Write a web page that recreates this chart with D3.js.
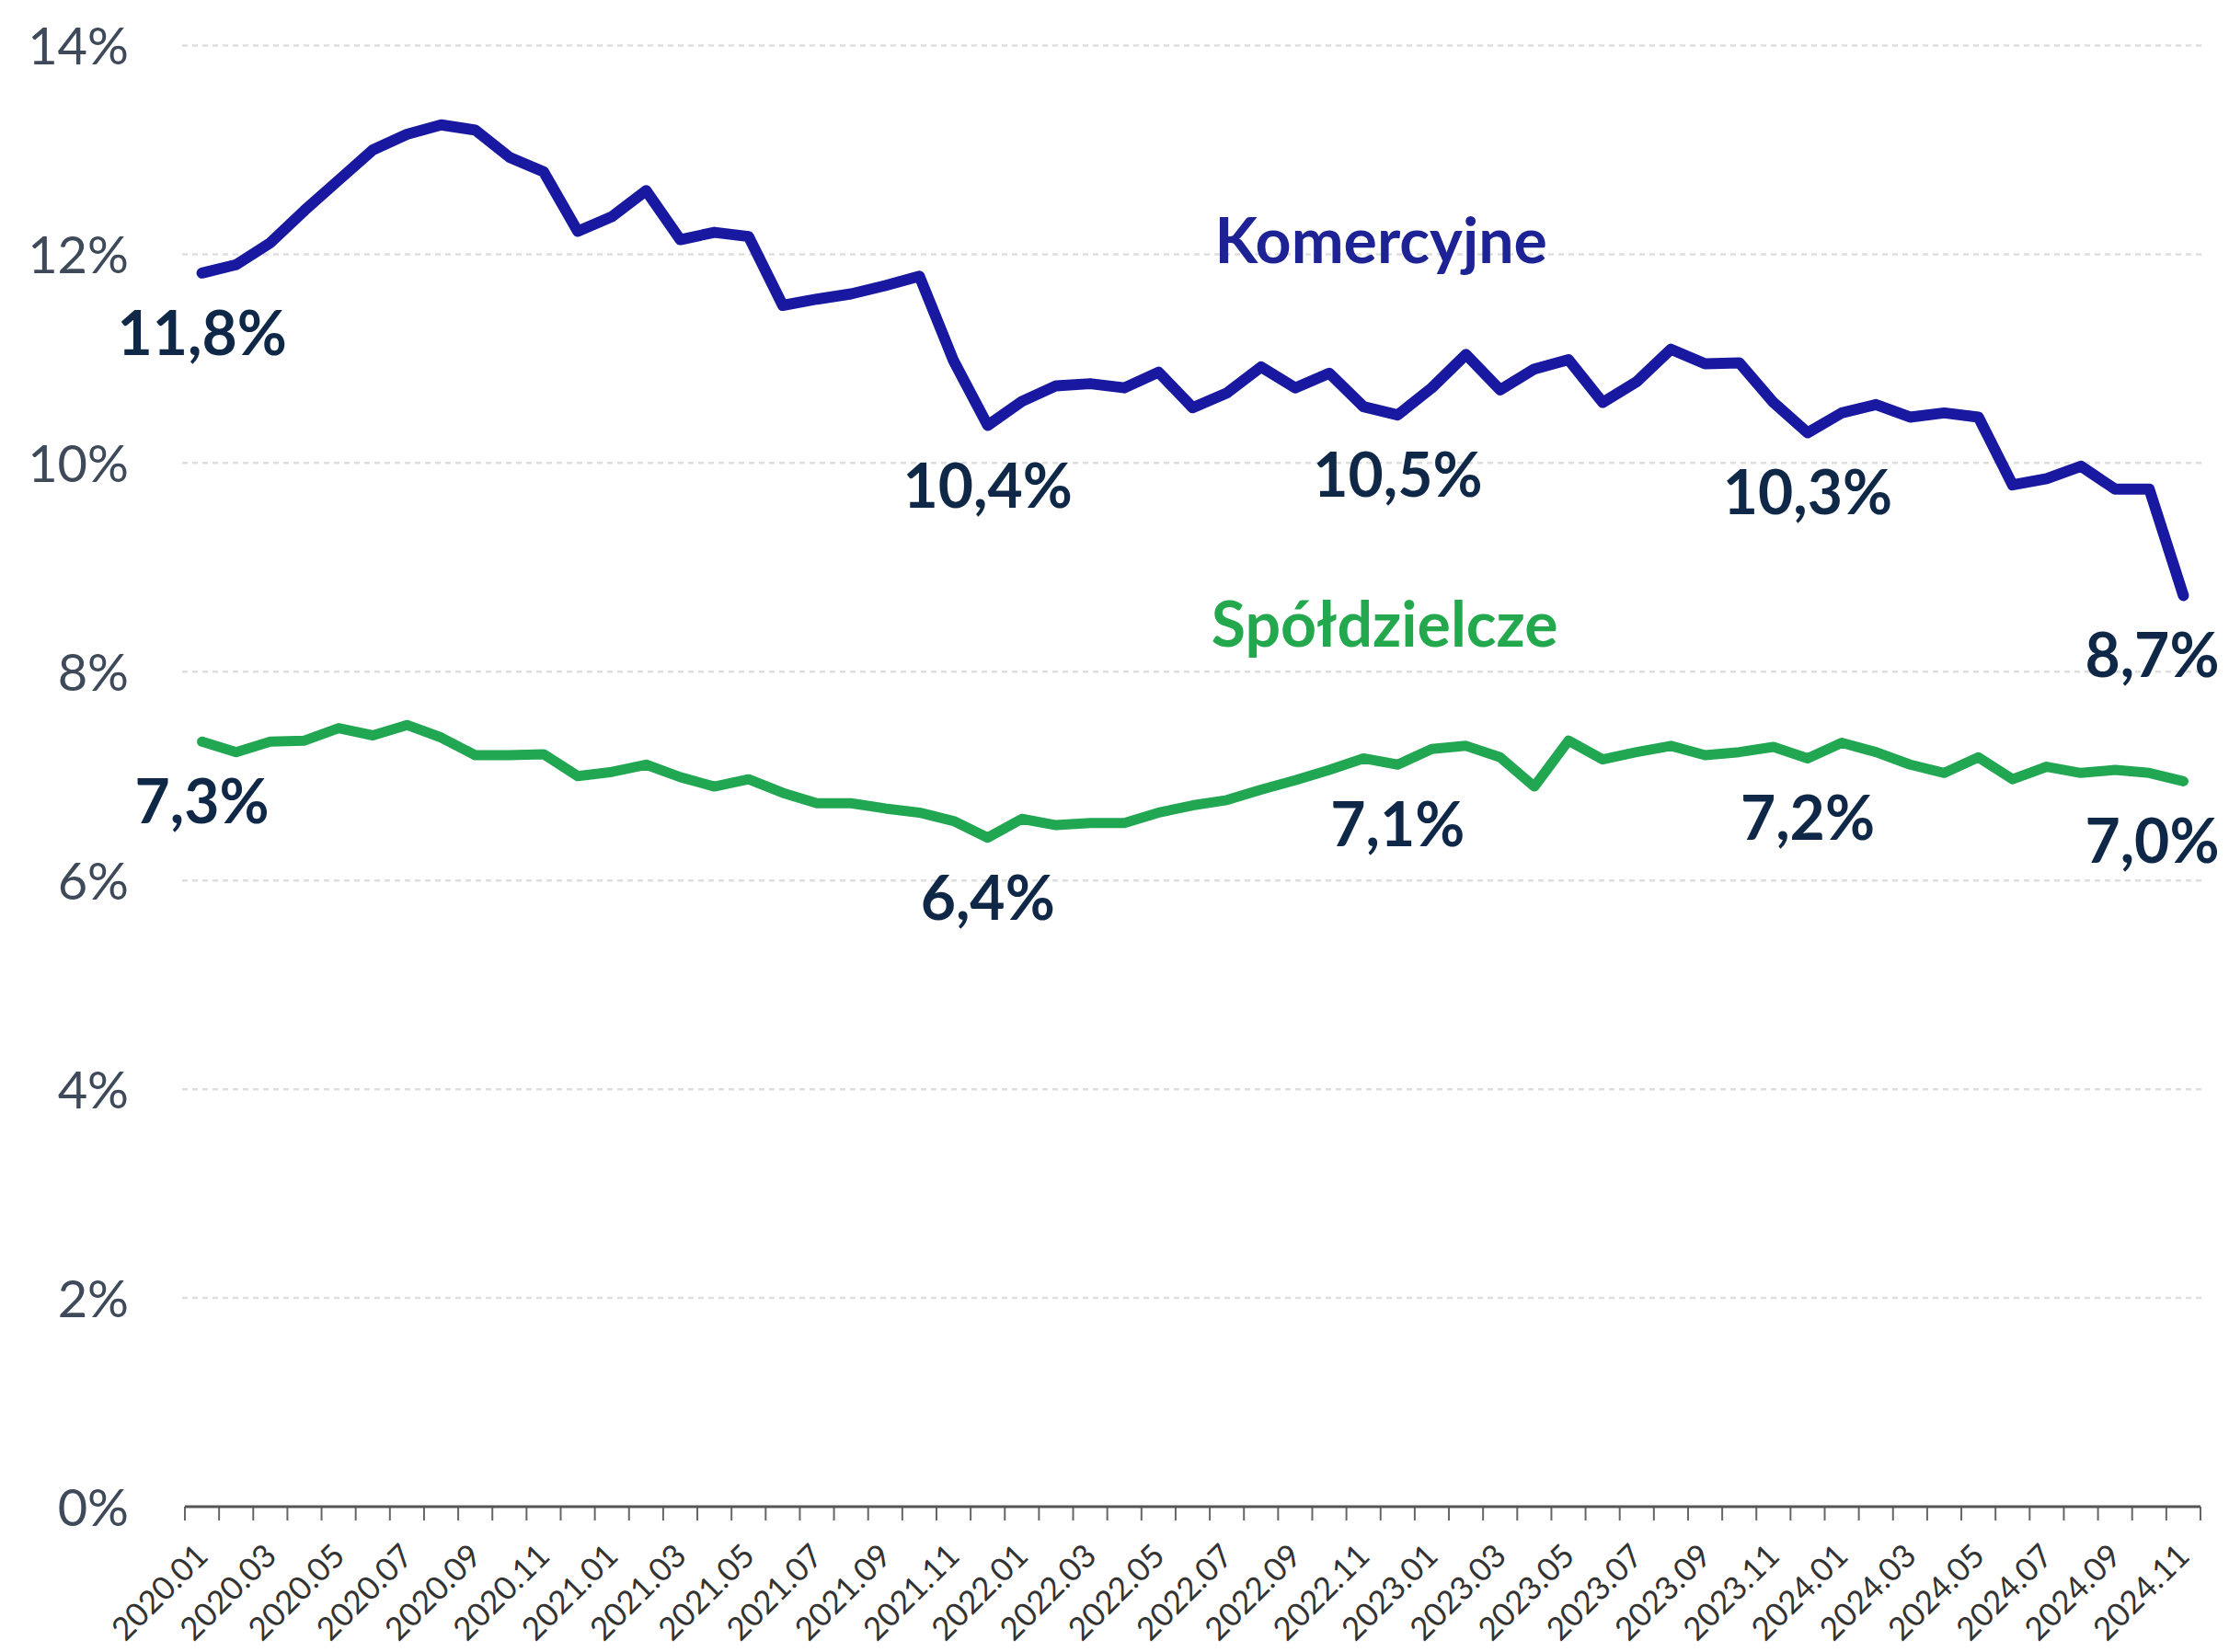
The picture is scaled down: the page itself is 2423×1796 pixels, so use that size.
<!DOCTYPE html>
<html><head><meta charset="utf-8">
<script src="https://cdn.jsdelivr.net/npm/d3@7"></script>
<style>html,body{margin:0;padding:0;background:#fff;} svg{display:block;}</style>
</head><body>
<svg id="chart" width="2423" height="1796"></svg>
<script>
// ---- DATA ----
const categories = [
 "2020.01","2020.02","2020.03","2020.04","2020.05","2020.06","2020.07","2020.08","2020.09","2020.10","2020.11","2020.12",
 "2021.01","2021.02","2021.03","2021.04","2021.05","2021.06","2021.07","2021.08","2021.09","2021.10","2021.11","2021.12",
 "2022.01","2022.02","2022.03","2022.04","2022.05","2022.06","2022.07","2022.08","2022.09","2022.10","2022.11","2022.12",
 "2023.01","2023.02","2023.03","2023.04","2023.05","2023.06","2023.07","2023.08","2023.09","2023.10","2023.11","2023.12",
 "2024.01","2024.02","2024.03","2024.04","2024.05","2024.06","2024.07","2024.08","2024.09","2024.10","2024.11"
];
const komercyjne = [
 11.82,11.90,12.11,12.42,12.71,13.00,13.15,13.24,13.19,12.93,12.79,12.22,
 12.36,12.61,12.14,12.21,12.17,11.51,11.57,11.62,11.70,11.79,10.98,10.36,
 10.59,10.74,10.76,10.72,10.87,10.53,10.67,10.92,10.72,10.86,10.54,10.46,
 10.72,11.04,10.70,10.90,10.99,10.58,10.78,11.09,10.95,10.96,10.58,10.29,
 10.48,10.56,10.44,10.48,10.44,9.79,9.85,9.97,9.75,9.75,8.73
];
const spoldzielcze = [
 7.33,7.23,7.33,7.34,7.46,7.39,7.49,7.37,7.20,7.20,7.21,7.00,
 7.04,7.11,6.99,6.90,6.97,6.84,6.74,6.74,6.69,6.65,6.57,6.41,
 6.59,6.53,6.55,6.55,6.65,6.72,6.77,6.87,6.96,7.06,7.17,7.11,
 7.26,7.29,7.18,6.90,7.34,7.16,7.23,7.29,7.20,7.23,7.28,7.17,
 7.32,7.23,7.11,7.03,7.18,6.97,7.09,7.03,7.06,7.03,6.95
];
const yTicks = [0,2,4,6,8,10,12,14];
const xTickLabels = categories.filter((d,i) => i % 2 === 0);
const seriesNames = ["Komercyjne","Spółdzielcze"];
const komLabelIdx = [0,23,35,47,58];
const komLabelText = ["11,8%","10,4%","10,5%","10,3%","8,7%"];
const spoLabelIdx = [0,23,35,47,58];
const spoLabelText = ["7,3%","6,4%","7,1%","7,2%","7,0%"];

// ---- CHART ----
const svg = d3.select("#chart");
const FONT = "Lato, 'Open Sans', sans-serif";
const NAVY = "#1818a0", GREEN = "#21a651", LABEL = "#0f2847";

const x = d3.scaleBand().domain(categories).range([201, 2392]).padding(0);
const cx = c => x(c) + x.bandwidth() / 2;
const y = d3.scaleLinear().domain([0, 14]).range([1638, 49.5]);

// gridlines
svg.append("g").selectAll("line").data(yTicks.filter(v => v > 0)).join("line")
  .attr("x1", x.range()[0] - 3).attr("x2", x.range()[1] + 4)
  .attr("y1", d => y(d)).attr("y2", d => y(d))
  .attr("stroke", "#dedede").attr("stroke-width", 2.5).attr("stroke-dasharray", "6,5");

// y axis labels
const gy = svg.append("g").attr("transform", "translate(140,0)")
  .call(d3.axisLeft(y).tickValues(yTicks).tickFormat(d => d + "%").tickSize(0).tickPadding(0));
gy.select(".domain").remove();
gy.selectAll("text").attr("font-family", FONT).attr("font-size", 56)
  .attr("fill", "#3e4959").attr("dy", "0.36em");

// x axis: line + boundary ticks
const gx = svg.append("g");
const bounds = categories.map(c => x(c)).concat([x.range()[1]]);
gx.selectAll("line.tk").data(bounds).join("line").attr("class", "tk")
  .attr("x1", d => d).attr("x2", d => d).attr("y1", y(0)).attr("y2", y(0) + 15)
  .attr("stroke", "#666").attr("stroke-width", 2);
gx.append("line").attr("x1", x.range()[0]).attr("x2", x.range()[1])
  .attr("y1", y(0)).attr("y2", y(0)).attr("stroke", "#555").attr("stroke-width", 3);

const gxl = svg.append("g").attr("transform", `translate(0,${y(0)})`)
  .call(d3.axisBottom(x).tickValues(xTickLabels).tickSize(0));
gxl.select(".domain").remove();
gxl.selectAll("text").attr("font-family", FONT).attr("font-size", 35).attr("fill", "#333")
  .attr("text-anchor", "end").attr("x", 0).attr("y", 0).attr("dy", "0.35em")
  .attr("transform", "translate(0,47) rotate(-45)");

// lines
const line = d3.line().x((d, i) => cx(categories[i])).y(d => y(d));
svg.append("path").datum(spoldzielcze).attr("d", line).attr("fill", "none")
  .attr("stroke", GREEN).attr("stroke-width", 11).attr("stroke-linejoin", "round").attr("stroke-linecap", "round");
svg.append("path").datum(komercyjne).attr("d", line).attr("fill", "none")
  .attr("stroke", NAVY).attr("stroke-width", 12).attr("stroke-linejoin", "round").attr("stroke-linecap", "round");

// value labels
function valueLabels(idx, texts, values) {
  svg.append("g").selectAll("text").data(idx).join("text")
    .attr("x", d => cx(categories[d]) + (d === categories.length - 1 ? -34 : 0))
    .attr("y", d => y(values[d]) + 89)
    .attr("text-anchor", "middle").attr("font-family", FONT).attr("font-weight", 700)
    .attr("font-size", 66).attr("fill", LABEL)
    .text((d, k) => texts[k]);
}
valueLabels(komLabelIdx, komLabelText, komercyjne);
valueLabels(spoLabelIdx, spoLabelText, spoldzielcze);

// series names
svg.append("text").attr("x", cx(categories[34]) + 19).attr("y", y(12) + 10)
  .attr("text-anchor", "middle").attr("font-family", FONT).attr("font-weight", 700)
  .attr("font-size", 68).attr("fill", "#1d2395").text(seriesNames[0]);
svg.append("text").attr("x", cx(categories[34]) + 23).attr("y", y(8) - 27)
  .attr("text-anchor", "middle").attr("font-family", FONT).attr("font-weight", 700)
  .attr("font-size", 68).attr("fill", "#23a84e").text(seriesNames[1]);
</script>
</body></html>
